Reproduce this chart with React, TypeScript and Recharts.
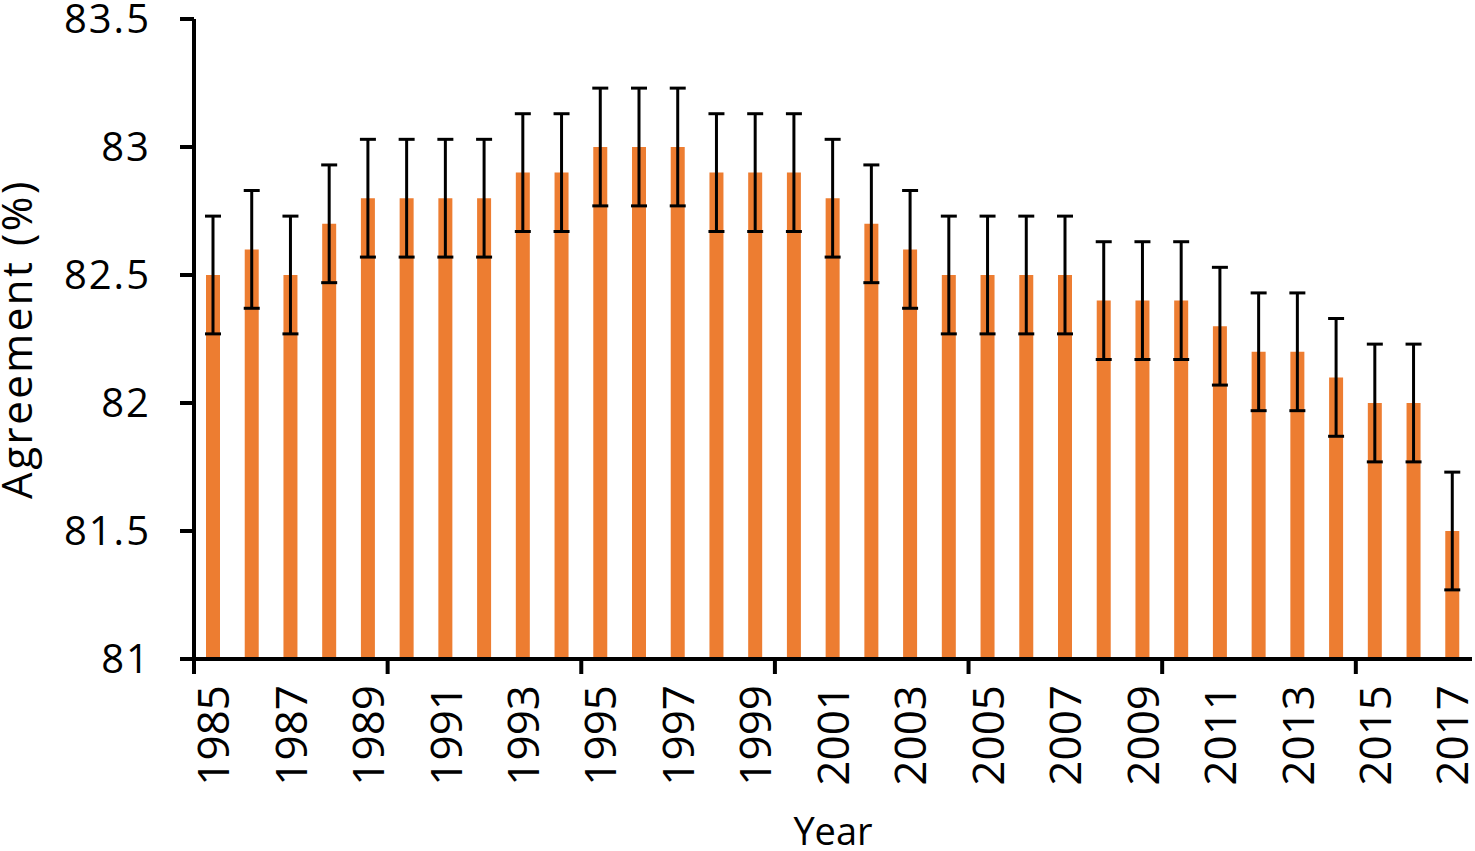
import React from 'react';
import { BarChart, Bar, XAxis, YAxis, ErrorBar, Label } from 'recharts';

const years: string[] = [
  '1985', '1986', '1987', '1988', '1989', '1990', '1991', '1992', '1993', '1994', '1995',
  '1996', '1997', '1998', '1999', '2000', '2001', '2002', '2003', '2004', '2005', '2006',
  '2007', '2008', '2009', '2010', '2011', '2012', '2013', '2014', '2015', '2016', '2017',
];
const agreement: number[] = [
  82.5, 82.6, 82.5, 82.7, 82.8, 82.8, 82.8, 82.8, 82.9, 82.9, 83.0,
  83.0, 83.0, 82.9, 82.9, 82.9, 82.8, 82.7, 82.6, 82.5, 82.5, 82.5,
  82.5, 82.4, 82.4, 82.4, 82.3, 82.2, 82.2, 82.1, 82.0, 82.0, 81.5,
];
const errors: number[] = [
  0.23, 0.23, 0.23, 0.23, 0.23, 0.23, 0.23, 0.23, 0.23, 0.23, 0.23,
  0.23, 0.23, 0.23, 0.23, 0.23, 0.23, 0.23, 0.23, 0.23, 0.23, 0.23,
  0.23, 0.23, 0.23, 0.23, 0.23, 0.23, 0.23, 0.23, 0.23, 0.23, 0.23,
];
const yTicks: number[] = [81, 81.5, 82, 82.5, 83, 83.5];

const data = years.map((year, i) => ({ year, value: agreement[i], err: errors[i] }));

const FONT = '"Open Sans", sans-serif';

const YearTick = (props: any) => {
  const { x, y, index, payload } = props;
  const half = payload && payload.offset ? payload.offset : 0;
  const lx = x - half;
  const ty = y + 26;
  return (
    <g>
      {index % 5 === 0 && (
        <line x1={lx} x2={lx} y1={y} y2={y + 15} stroke="#000" strokeWidth={4} />
      )}
      {index % 2 === 0 && (
        <text
          x={x}
          y={ty}
          dy="0.36em"
          transform={`rotate(-90, ${x}, ${ty})`}
          textAnchor="end"
          fontFamily={FONT}
          fontSize={44}
          fill="#000"
        >
          {payload.value}
        </text>
      )}
    </g>
  );
};

const YTick = (props: any) => {
  const { x, y, payload } = props;
  return (
    <text
      x={x + 2}
      y={y}
      dy="0.36em"
      textAnchor="end"
      fontFamily={FONT}
      fontSize={40}
      letterSpacing={2}
      fill="#000"
    >
      {payload.value}
    </text>
  );
};

const YTitle = (props: any) => {
  const { viewBox } = props;
  const cx = viewBox.x + 17;
  const cy = viewBox.y + viewBox.height / 2;
  return (
    <text
      x={cx}
      y={cy}
      dy="0.35em"
      transform={`rotate(-90, ${cx}, ${cy})`}
      textAnchor="middle"
      fontFamily={FONT}
      fontSize={42}
      letterSpacing={2.5}
      fill="#000"
    >
      Agreement (%)
    </text>
  );
};

export default function App() {
  return (
    <div style={{ position: 'absolute', left: 0, top: 0, width: 1475, height: 851, background: '#fff' }}>
      <BarChart
        width={1475}
        height={851}
        data={data}
        margin={{ top: 19, right: 3, bottom: 0, left: 0 }}
        barCategoryGap={0}
      >
        <XAxis
          dataKey="year"
          type="category"
          interval={0}
          height={192}
          tickLine={false}
          tickSize={0}
          tickMargin={0}
          axisLine={{ stroke: '#000', strokeWidth: 4 }}
          tick={<YearTick />}
        >
          <Label
            value="Year"
            position="insideBottom"
            offset={6}
            style={{ fontFamily: FONT, fontSize: 38, fill: '#000' }}
          />
        </XAxis>
        <YAxis
          type="number"
          domain={[81, 83.5]}
          ticks={yTicks}
          width={194}
          tickSize={14}
          tickMargin={31}
          axisLine={{ stroke: '#000', strokeWidth: 4 }}
          tickLine={{ stroke: '#000', strokeWidth: 4 }}
          tick={<YTick />}
          label={<Label content={<YTitle />} />}
        />
        <Bar dataKey="value" fill="#ED7D31" barSize={14} isAnimationActive={false}>
          <ErrorBar dataKey="err" width={8} strokeWidth={3} stroke="#000" direction="y" isAnimationActive={false} />
        </Bar>
      </BarChart>
    </div>
  );
}
